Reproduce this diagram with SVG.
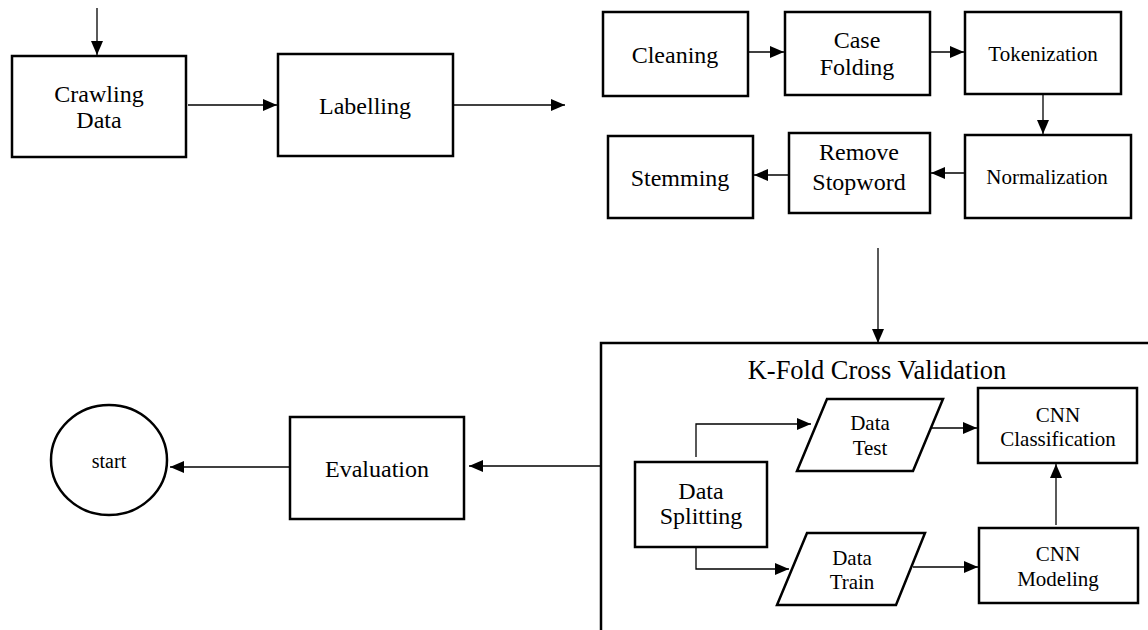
<svg xmlns="http://www.w3.org/2000/svg" width="1148" height="630" viewBox="0 0 1148 630">
<style>
.box{fill:#fff;stroke:#000;stroke-width:2.5}
.frame{fill:none;stroke:#000;stroke-width:2.5}
.c{fill:none;stroke:#000;stroke-width:1.3;marker-end:url(#ah)}
text{font-family:"Liberation Serif","Times New Roman",serif;fill:#000;text-anchor:middle}
.t24{font-size:24px}
.t21{font-size:21px}
.t20{font-size:20px}
.t26{font-size:26.5px}
</style>
<defs>
<marker id="ah" viewBox="0 0 14 12" refX="14" refY="6" markerWidth="14" markerHeight="12" markerUnits="userSpaceOnUse" orient="auto">
<path d="M0,0 L14,6 L0,12 z" fill="#000"/>
</marker>
</defs>
<g id="connectors">
<line class="c" x1="97" y1="8" x2="97" y2="55"/>
<line class="c" x1="188" y1="105" x2="277" y2="105"/>
<line class="c" x1="454" y1="105" x2="565" y2="105"/>
<line class="c" x1="748" y1="52" x2="784" y2="52"/>
<line class="c" x1="930" y1="52" x2="964" y2="52"/>
<line class="c" x1="1043" y1="94" x2="1043" y2="134"/>
<line class="c" x1="965" y1="173" x2="931" y2="173"/>
<line class="c" x1="789" y1="175" x2="754" y2="175"/>
<line class="c" x1="878" y1="248" x2="878" y2="343"/>
<line class="c" x1="600" y1="466" x2="469" y2="466"/>
<line class="c" x1="290" y1="467" x2="170" y2="467"/>
<polyline class="c" points="696,457 696,424 811,424"/>
<polyline class="c" points="696,545 696,569 789,569"/>
<line class="c" x1="932" y1="428" x2="977" y2="428"/>
<line class="c" x1="913" y1="567" x2="978" y2="567"/>
<line class="c" x1="1056" y1="525" x2="1056" y2="464"/>
</g>
<g id="crawling"><rect class="box" x="12" y="56" width="174" height="101"/><text class="t24" x="99" y="102">Crawling</text><text class="t24" x="99" y="128">Data</text></g>
<g id="labelling"><rect class="box" x="278" y="54" width="175" height="102"/><text class="t24" x="365" y="114">Labelling</text></g>
<g id="cleaning"><rect class="box" x="603" y="12" width="145" height="84"/><text class="t24" x="675" y="63">Cleaning</text></g>
<g id="casefolding"><rect class="box" x="785" y="12" width="145" height="83"/><text class="t24" x="857" y="48">Case</text><text class="t24" x="857" y="75">Folding</text></g>
<g id="tokenization"><rect class="box" x="965" y="12" width="156" height="82"/><text class="t21" x="1043" y="61">Tokenization</text></g>
<g id="normalization"><rect class="box" x="965" y="135" width="166" height="83"/><text class="t21" x="1047" y="184">Normalization</text></g>
<g id="removestopword"><rect class="box" x="789" y="133" width="141" height="80"/><text class="t24" x="859" y="160">Remove</text><text class="t24" x="859" y="190">Stopword</text></g>
<g id="stemming"><rect class="box" x="608" y="136" width="145" height="82"/><text class="t24" x="680" y="186">Stemming</text></g>
<g id="kfold"><rect class="frame" x="601" y="343" width="600" height="320"/><text class="t26" x="877" y="379">K-Fold Cross Validation</text></g>
<g id="datasplitting"><rect class="box" x="635" y="462" width="132" height="85"/><text class="t24" x="701" y="499">Data</text><text class="t24" x="701" y="524">Splitting</text></g>
<g id="datatest"><polygon class="box" points="827,399 943,399 913,471 797,471"/><text class="t21" x="870" y="430">Data</text><text class="t21" x="870" y="455">Test</text></g>
<g id="datatrain"><polygon class="box" points="807,533 925,533 896,605 777,605"/><text class="t21" x="852" y="565">Data</text><text class="t21" x="852" y="589">Train</text></g>
<g id="cnnclassification"><rect class="box" x="978" y="388" width="159" height="75"/><text class="t21" x="1058" y="422">CNN</text><text class="t21" x="1058" y="446">Classification</text></g>
<g id="cnnmodeling"><rect class="box" x="979" y="528" width="159" height="75"/><text class="t21" x="1058" y="561">CNN</text><text class="t21" x="1058" y="586">Modeling</text></g>
<g id="evaluation"><rect class="box" x="290" y="417" width="174" height="102"/><text class="t24" x="377" y="477">Evaluation</text></g>
<g id="start"><ellipse class="box" cx="109" cy="460" rx="58" ry="55"/><text class="t20" x="109" y="468">start</text></g>
</svg>
